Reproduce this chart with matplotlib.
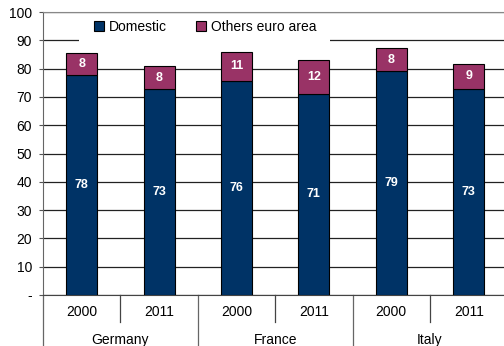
import numpy as np
import matplotlib
import matplotlib.pyplot as plt
from matplotlib.patches import Rectangle
from matplotlib.transforms import blended_transform_factory

matplotlib.use('Agg')
plt.rcParams['font.family'] = ['Liberation Sans', 'DejaVu Sans']

countries = ["Germany", "France", "Italy"]
years = ["2000", "2011", "2000", "2011", "2000", "2011"]
domestic = [77.6, 72.7, 75.5, 71.1, 79.0, 72.9]
others = [8.0, 8.3, 10.5, 11.9, 8.4, 8.8]
domestic_labels = ["78", "73", "76", "71", "79", "73"]
others_labels = ["8", "8", "11", "12", "8", "9"]

NAVY = "#003366"
MAROON = "#993366"

fig = plt.figure(figsize=(5.04, 3.46), dpi=100)
ax = fig.add_axes([43 / 504, 51 / 346, 1 - 43 / 504, 283 / 346])

x = np.arange(len(years))
ax.bar(x, domestic, width=0.4, color=NAVY, edgecolor="black", linewidth=0.8,
       label="Domestic", zorder=3)
ax.bar(x, others, width=0.4, bottom=domestic, color=MAROON, edgecolor="black",
       linewidth=0.8, label="Others euro area", zorder=3)

for xi, d, o, dl, ol in zip(x, domestic, others, domestic_labels, others_labels):
    ax.text(xi, d / 2, dl, ha="center", va="center", color="white",
            fontsize=9, fontweight="bold", zorder=4)
    ax.text(xi, d + o / 2, ol, ha="center", va="center", color="white",
            fontsize=9, fontweight="bold", zorder=4)

ax.set_xlim(-0.5, 5.456)
ax.set_ylim(0, 100)
ax.set_yticks(np.arange(0, 101, 10))
ax.set_yticklabels(["-"] + [str(v) for v in range(10, 101, 10)], fontsize=10)
ax.tick_params(axis="y", length=3, width=0.8, color="#555555", pad=5)
ax.set_xticks([])
ax.yaxis.grid(True, color="#222222", linewidth=0.9, zorder=0)
ax.set_axisbelow(True)

ax.spines["right"].set_visible(False)
ax.spines["top"].set_color("#888888")
ax.spines["left"].set_color("#666666")
ax.spines["bottom"].set_color("#444444")

# two-level category axis
trans = blended_transform_factory(ax.transData, ax.transAxes)
for xi, yr in zip(x, years):
    ax.text(xi, -0.06, yr, ha="center", va="center", fontsize=10, transform=trans)
for i, c in enumerate(countries):
    ax.text(2 * i + 0.5, -0.16, c, ha="center", va="center", fontsize=10, transform=trans)
for xs in [0.5, 2.5, 4.5]:
    ax.plot([xs, xs], [0, -0.095], color="#444444", lw=0.9, transform=trans, clip_on=False)
for xs in [-0.5, 1.5, 3.5]:
    ax.plot([xs, xs], [0, -0.2], color="#666666", lw=0.9, transform=trans, clip_on=False)

# white legend background
ax.add_patch(Rectangle((36 / 461, 0.87), 251 / 461, 0.12, transform=ax.transAxes,
                       facecolor="white", edgecolor="none", zorder=1))
leg = ax.legend(loc="center left", bbox_to_anchor=(51 / 461, 0.948), ncol=2, fontsize=10,
                frameon=False, borderpad=0, borderaxespad=0,
                handlelength=0.72, handleheight=0.72, handletextpad=0.35,
                columnspacing=2.1)
leg.set_zorder(5)

fig.savefig("out.png", dpi=100)
